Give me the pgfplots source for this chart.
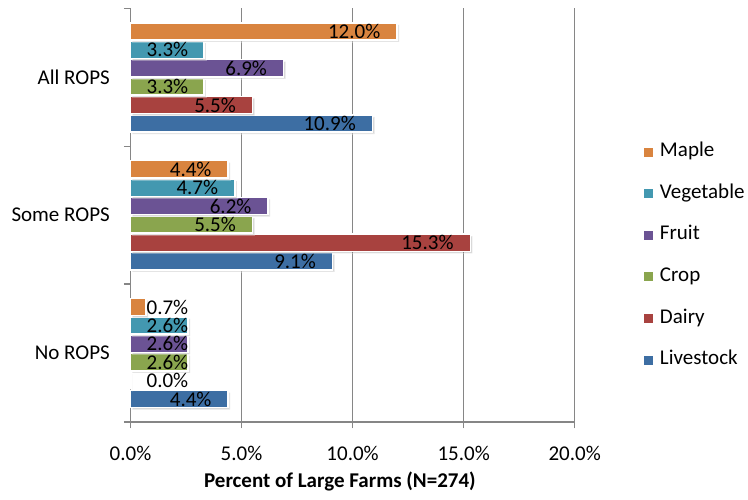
\documentclass[border=0pt]{standalone}
\usepackage{pgfplots}
\pgfplotsset{compat=1.18}
\usepackage{fontspec}
\setmainfont{Carlito}
\usetikzlibrary{shadows}
\definecolor{cMaple}{HTML}{D9843F}
\definecolor{cVeg}{HTML}{4398B0}
\definecolor{cFruit}{HTML}{6B5394}
\definecolor{cCrop}{HTML}{8AA54E}
\definecolor{cDairy}{HTML}{A8423F}
\definecolor{cLive}{HTML}{3D6EA3}
\definecolor{axgray}{HTML}{868686}
\begin{document}
\begin{tikzpicture}[font=\fontsize{21}{25}\selectfont]
\path[use as bounding box] (0,0) rectangle (748pt,500pt);
\begin{axis}[
  at={(130.5pt,78pt)}, anchor=south west,
  scale only axis, width=444.2pt, height=413.5pt,
  xbar, bar width=0.125,
  xmin=0, xmax=20, ymin=-0.5, ymax=2.5,
  clip=false,
  axis x line*=bottom, axis y line*=left,
  axis line style={axgray, line width=1.5pt},
  xtick={0,5,10,15,20},
  xticklabel={\pgfmathprintnumber[fixed,fixed zerofill,precision=1,assume math mode=true]{\tick}\%},
  xticklabel style={anchor=base, yshift=-32pt, inner sep=0pt},
  ytick={-0.5,0.5,1.5,2.5},
  yticklabels={},
  extra y ticks={0,1,2},
  extra y tick labels={No ROPS, Some ROPS, All ROPS},
  extra y tick style={major tick length=0pt, yticklabel style={anchor=east, inner sep=0pt, xshift=-20.5pt}},
  tick align=outside,
  major tick length=6.5pt,
  major tick style={axgray, line width=1.5pt},
  xmajorgrids, grid style={axgray, line width=1.5pt},
  xlabel={\bfseries Percent of Large Farms (N=274)},
  xlabel style={at={(axis description cs:0.4716,0)}, anchor=base, yshift=-66pt, inner sep=0pt},
  nodes near coords={\pgfmathprintnumber[fixed,fixed zerofill,precision=1,assume math mode=true]{\pgfplotspointmeta}\%},
  point meta=rawx,
  visualization depends on={rawx \as \rawx},
  every node near coord/.append style={anchor=east, inner xsep=2pt, inner ysep=0pt, text=black, xshift={max(-14,60.5-\rawx*22.21)*1pt}},
  legend style={draw=none, fill=none, at={(1.156,0.401)}, anchor=west, inner sep=0pt, outer sep=0pt,
    legend cell align=left, row sep=22.6pt, column sep=7pt,
    nodes={inner sep=0pt, text height=14pt, text depth=5pt}},
  legend image code/.code={\fill[#1] (0pt,-4.5pt) rectangle (9pt,4.5pt);},
]
\addlegendimage{fill=cMaple, draw=none}
\addlegendentry{Maple}
\addlegendimage{fill=cVeg, draw=none}
\addlegendentry{Vegetable}
\addlegendimage{fill=cFruit, draw=none}
\addlegendentry{Fruit}
\addlegendimage{fill=cCrop, draw=none}
\addlegendentry{Crop}
\addlegendimage{fill=cDairy, draw=none}
\addlegendentry{Dairy}
\addlegendimage{fill=cLive, draw=none}
\addlegendentry{Livestock}

\addplot[fill=cLive, draw=white, line width=1.5pt, bar shift=-0.334, forget plot,
  drop shadow={shadow xshift=2pt, shadow yshift=-2pt, opacity=0.3}]
  coordinates {(4.4,0) (9.1,1) (10.9,2)};
\addplot[fill=cDairy, draw=white, line width=1.5pt, bar shift=-0.2, forget plot,
  drop shadow={shadow xshift=2pt, shadow yshift=-2pt, opacity=0.3}]
  coordinates {(0.0,0) (15.3,1) (5.5,2)};
\addplot[fill=cCrop, draw=white, line width=1.5pt, bar shift=-0.0668, forget plot,
  drop shadow={shadow xshift=2pt, shadow yshift=-2pt, opacity=0.3}]
  coordinates {(2.6,0) (5.5,1) (3.3,2)};
\addplot[fill=cFruit, draw=white, line width=1.5pt, bar shift=0.0668, forget plot,
  drop shadow={shadow xshift=2pt, shadow yshift=-2pt, opacity=0.3}]
  coordinates {(2.6,0) (6.2,1) (6.9,2)};
\addplot[fill=cVeg, draw=white, line width=1.5pt, bar shift=0.2, forget plot,
  drop shadow={shadow xshift=2pt, shadow yshift=-2pt, opacity=0.3}]
  coordinates {(2.6,0) (4.7,1) (3.3,2)};
\addplot[fill=cMaple, draw=white, line width=1.5pt, bar shift=0.334, forget plot,
  drop shadow={shadow xshift=2pt, shadow yshift=-2pt, opacity=0.3}]
  coordinates {(0.7,0) (4.4,1) (12.0,2)};
\end{axis}
\end{tikzpicture}
\end{document}
